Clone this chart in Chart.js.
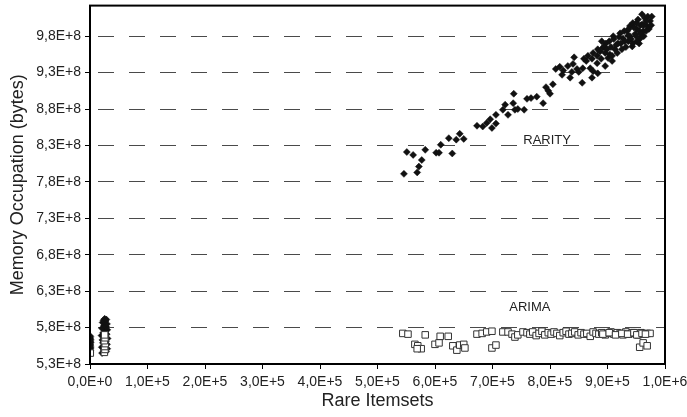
<!DOCTYPE html>
<html>
<head>
<meta charset="utf-8">
<script src="https://cdn.jsdelivr.net/npm/chart.js@4/dist/chart.umd.min.js"></script>
<style>
  html, body { margin: 0; padding: 0; background: #fff; }
  #wrap { width: 687px; height: 417px; }
</style>
</head>
<body>
<div id="wrap"><canvas id="c" width="687" height="417"></canvas></div>
<script>
// Axis tick labels
const xTickLabels = ['0,0E+0','1,0E+5','2,0E+5','3,0E+5','4,0E+5','5,0E+5','6,0E+5','7,0E+5','8,0E+5','9,0E+5','1,0E+6'];
const yTickValues = [5.3e8, 5.8e8, 6.3e8, 6.8e8, 7.3e8, 7.8e8, 8.3e8, 8.8e8, 9.3e8, 9.8e8];
const yTickLabels = ['5,3E+8','5,8E+8','6,3E+8','6,8E+8','7,3E+8','7,8E+8','8,3E+8','8,8E+8','9,3E+8','9,8E+8'];

// RARITY: rare itemsets found vs. memory occupied (bytes)
const rarityItemsets = [
  0, 800, 0, 1200, 400, 900, 0, 1300, 500, 1000, 200, 700,
  21000, 28000, 24000, 30000, 20500, 26500, 29500, 22500, 27500, 21500, 30500, 25000, 20000,
  29000, 23000, 26000, 30000, 21000, 28000, 24500, 29500, 22000, 27000, 23500, 28500, 25500,
  546e3, 551e3, 562e3, 569e3, 572e3, 577e3, 583e3, 602e3, 607e3, 610e3, 630e3, 624e3, 637e3,
  643e3, 650e3, 673e3, 683e3, 690e3, 696e3, 699e3, 706e3, 706e3, 722e3, 718e3, 727e3, 739e3,
  744e3, 736e3, 737e3, 755e3, 760e3, 767e3, 777e3, 788e3, 793e3, 797e3, 800e3, 805e3, 810e3,
  817e3, 821e3, 823e3, 831e3, 835e3, 838e3, 842e3, 840e3, 847e3, 850e3, 856e3, 857e3, 863e3,
  866e3, 870e3, 873e3, 882e3, 882e3, 883e3, 859e3, 875e3, 890e3, 892e3, 897e3, 901e3, 904e3,
  910e3, 913e3, 918e3, 922e3, 927e3, 934e3, 936e3, 939e3, 943e3, 944e3, 948e3, 951e3, 953e3,
  957e3, 960e3, 962e3, 965e3, 969e3, 970e3, 974e3, 951e3, 939e3, 960e3, 887e3, 889e3, 894e3,
  896e3, 899e3, 903e3, 906e3, 908e3, 911e3, 915e3, 917e3, 920e3, 923e3, 925e3, 929e3, 930e3,
  932e3, 936e3, 937e3, 941e3, 944e3, 946e3, 950e3, 950e3, 955e3, 957e3, 958e3, 963e3, 967e3,
  972e3, 963e3, 967e3, 977e3, 976e3, 955e3, 875e3, 896e3, 908e3, 883e3, 873e3
];
const rarityMemory = [
  5.46e8, 5.48e8, 5.50e8, 5.52e8, 5.54e8, 5.56e8, 5.58e8, 5.60e8, 5.62e8, 5.64e8, 5.66e8, 5.68e8,
  5.45e8, 5.47e8, 5.49e8, 5.51e8, 5.53e8, 5.55e8, 5.57e8, 5.59e8, 5.61e8, 5.63e8, 5.65e8, 5.67e8, 5.69e8,
  5.71e8, 5.73e8, 5.75e8, 5.77e8, 5.79e8, 5.81e8, 5.83e8, 5.85e8, 5.87e8, 5.89e8, 5.90e8, 5.91e8, 5.92e8,
  7.91e8, 8.21e8, 8.17e8, 7.93e8, 8.01e8, 8.10e8, 8.24e8, 8.20e8, 8.20e8, 8.31e8, 8.19e8, 8.40e8, 8.38e8,
  8.46e8, 8.39e8, 8.57e8, 8.56e8, 8.61e8, 8.66e8, 8.54e8, 8.72e8, 8.60e8, 8.86e8, 8.79e8, 8.72e8, 8.79e8,
  8.80e8, 8.88e8, 9.01e8, 8.79e8, 8.94e8, 8.95e8, 8.97e8, 8.88e8, 9.10e8, 9.05e8, 9.01e8, 9.14e8, 9.35e8,
  9.38e8, 9.27e8, 9.33e8, 9.39e8, 9.23e8, 9.31e8, 9.51e8, 9.42e8, 9.35e8, 9.31e8, 9.16e8, 9.36e8, 9.46e8,
  9.53e8, 9.36e8, 9.49e8, 9.53e8, 9.43e8, 9.62e8, 9.49e8, 9.57e8, 9.73e8, 9.64e8, 9.70e8, 9.50e8, 9.55e8,
  9.80e8, 9.62e8, 9.70e8, 9.84e8, 9.77e8, 9.87e8, 9.73e8, 9.94e8, 9.66e8, 9.98e8, 9.83e8, 9.90e8, 10.03e8,
  9.77e8, 9.96e8, 9.87e8, 10.05e8, 9.94e8, 10.07e8, 10.01e8, 9.73e8, 9.80e8, 10.10e8, 9.59e8, 9.49e8, 9.66e8,
  9.57e8, 9.62e8, 9.73e8, 9.65e8, 9.53e8, 9.76e8, 9.68e8, 9.57e8, 9.79e8, 9.70e8, 9.62e8, 9.87e8, 9.73e8,
  9.65e8, 9.81e8, 9.90e8, 9.76e8, 9.70e8, 9.92e8, 9.80e8, 9.98e8, 9.87e8, 9.95e8, 9.83e8, 9.95e8, 10.01e8,
  9.90e8, 9.80e8, 9.87e8, 10.07e8, 9.95e8, 9.70e8, 9.32e8, 9.39e8, 9.46e8, 9.29e8, 9.23e8
];

// ARIMA: rare itemsets found vs. memory occupied (bytes)
const arimaItemsets = [
  500, 25000, 26000, 25500, 26500, 25000, 26000, 25500,
  544e3, 553e3, 565e3, 570e3, 576e3, 569e3, 583e3, 600e3, 607e3, 609e3, 623e3, 631e3, 638e3, 643e3,
  650e3, 652e3, 673e3, 682e3, 690e3, 699e3, 699e3, 706e3, 718e3, 727e3, 734e3, 739e3, 744e3, 753e3,
  760e3, 765e3, 770e3, 776e3, 781e3, 786e3, 791e3, 797e3, 802e3, 807e3, 812e3, 817e3, 823e3, 828e3,
  833e3, 838e3, 843e3, 849e3, 854e3, 859e3, 864e3, 870e3, 875e3, 880e3, 885e3, 890e3, 896e3, 901e3,
  906e3, 911e3, 917e3, 922e3, 927e3, 932e3, 937e3, 943e3, 948e3, 953e3, 958e3, 963e3, 969e3, 974e3,
  892e3, 903e3, 914e3, 925e3, 935e3, 946e3, 951e3, 960e3, 966e3, 956e3, 962e3, 969e3
];
const arimaMemory = [
  5.45e8, 5.46e8, 5.50e8, 5.54e8, 5.58e8, 5.62e8, 5.66e8, 5.70e8,
  5.72e8, 5.71e8, 5.57e8, 5.55e8, 5.51e8, 5.51e8, 5.70e8, 5.57e8, 5.59e8, 5.68e8, 5.68e8, 5.55e8, 5.49e8, 5.56e8,
  5.57e8, 5.52e8, 5.71e8, 5.72e8, 5.74e8, 5.75e8, 5.52e8, 5.56e8, 5.74e8, 5.74e8, 5.71e8, 5.67e8, 5.70e8, 5.74e8,
  5.73e8, 5.71e8, 5.74e8, 5.69e8, 5.72e8, 5.75e8, 5.70e8, 5.73e8, 5.71e8, 5.74e8, 5.72e8, 5.69e8, 5.73e8, 5.75e8,
  5.71e8, 5.72e8, 5.74e8, 5.70e8, 5.73e8, 5.71e8, 5.72e8, 5.68e8, 5.74e8, 5.72e8, 5.71e8, 5.73e8, 5.70e8, 5.72e8,
  5.74e8, 5.71e8, 5.73e8, 5.72e8, 5.70e8, 5.74e8, 5.71e8, 5.73e8, 5.72e8, 5.70e8, 5.73e8, 5.71e8, 5.72e8, 5.72e8,
  5.71e8, 5.73e8, 5.70e8, 5.72e8, 5.71e8, 5.73e8, 5.70e8, 5.72e8, 5.71e8, 5.53e8, 5.59e8, 5.55e8
];

// Series name labels, anchored in data coordinates
const seriesLabels = [
  { text: 'RARITY', x: 7.95e5, y: 8.37e8 },
  { text: 'ARIMA',  x: 7.65e5, y: 6.08e8 }
];

const zip = (xs, ys) => xs.map((x, i) => ({ x, y: ys[i] }));
const FONT = "'Liberation Sans', Arial, sans-serif";
const TEXT = '#222';

// Closed frame around the plot area plus the series name labels
const framePlugin = {
  id: 'frame',
  afterDraw(chart) {
    const { ctx, chartArea: a, scales } = chart;
    ctx.save();
    ctx.strokeStyle = '#000';
    ctx.lineWidth = 2;
    ctx.strokeRect(a.left, a.top, a.right - a.left, a.bottom - a.top);
    ctx.fillStyle = TEXT;
    ctx.font = '13px ' + FONT;
    ctx.textAlign = 'center';
    ctx.textBaseline = 'middle';
    seriesLabels.forEach(l => {
      ctx.fillText(l.text, scales.x.getPixelForValue(l.x), scales.y.getPixelForValue(l.y));
    });
    ctx.restore();
  }
};

new Chart(document.getElementById('c'), {
  type: 'scatter',
  data: {
    datasets: [
      {
        label: 'ARIMA',
        data: zip(arimaItemsets, arimaMemory),
        pointStyle: 'rect',
        pointRadius: 4.6,
        backgroundColor: '#fff',
        borderColor: '#333',
        borderWidth: 1
      },
      {
        label: 'RARITY',
        data: zip(rarityItemsets, rarityMemory),
        pointStyle: 'rectRot',
        pointRadius: 3.5,
        backgroundColor: '#111',
        borderColor: '#111',
        borderWidth: 0.5
      }
    ]
  },
  options: {
    responsive: false,
    animation: false,
    events: [],
    layout: { padding: { top: 5, right: 22, left: 0, bottom: 0 } },
    plugins: { legend: { display: false }, tooltip: { enabled: false } },
    scales: {
      x: {
        type: 'linear',
        min: 0,
        max: 1e6,
        ticks: {
          stepSize: 1e5,
          autoSkip: false,
          maxRotation: 0,
          padding: 5,
          color: TEXT,
          font: { family: FONT, size: 14 },
          callback: (v, i) => xTickLabels[i]
        },
        grid: { drawOnChartArea: false, drawTicks: true, tickLength: 5, tickColor: '#000', tickWidth: 1 },
        border: { color: '#000', width: 2 },
        title: { display: true, text: 'Rare Itemsets', color: TEXT, font: { family: FONT, size: 18 }, padding: { top: 0, bottom: 5 } },
        afterFit(scale) {
          scale.height = 53;
          scale.paddingLeft = 0;
          scale.paddingRight = 0;
        }
      },
      y: {
        type: 'linear',
        min: 5.3e8,
        max: 10.22e8,
        afterBuildTicks(scale) { scale.ticks = yTickValues.map(v => ({ value: v })); },
        ticks: {
          padding: 4,
          color: TEXT,
          font: { family: FONT, size: 14 },
          callback: (v, i) => yTickLabels[i]
        },
        grid: {
          color: '#4a4a4a',
          lineWidth: 1,
          drawTicks: true,
          tickLength: 5,
          tickColor: '#000',
          tickWidth: 1,
          tickBorderDash: []
        },
        border: { color: '#000', width: 2, dash: [16, 15], dashOffset: 24 },
        title: { display: true, text: 'Memory Occupation (bytes)', color: TEXT, font: { family: FONT, size: 18 }, padding: { top: 7, bottom: 0 } },
        afterFit(scale) {
          scale.width = 90;
          scale.paddingTop = 0;
          scale.paddingBottom = 0;
        }
      }
    }
  },
  plugins: [framePlugin]
});
</script>
</body>
</html>
